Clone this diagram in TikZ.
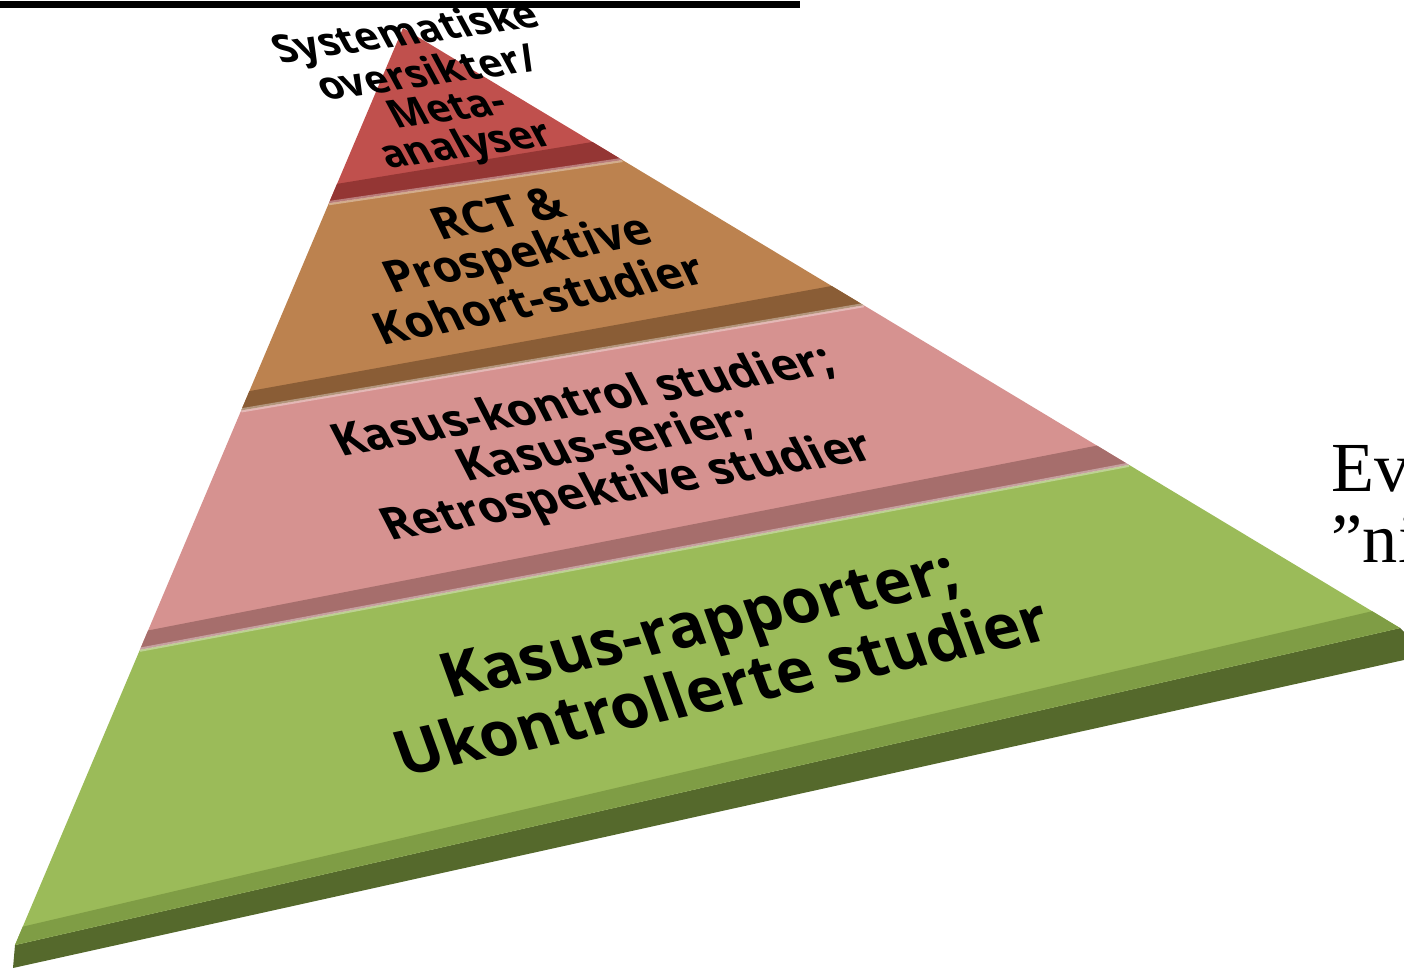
\documentclass[tikz,border=0pt]{standalone}
\usepackage{fontspec}
\setmainfont{Liberation Serif}
\newfontfamily\pyrfont{Open Sans}
\usetikzlibrary{calc}

\definecolor{redband}{HTML}{C0504D}
\definecolor{reddark}{HTML}{943634}
\definecolor{tanband}{HTML}{BC824F}
\definecolor{tandark}{HTML}{8A5D36}
\definecolor{pinkband}{HTML}{D69290}
\definecolor{pinkdark}{HTML}{A66E6C}
\definecolor{greenband}{HTML}{9BBB59}
\definecolor{greendark}{HTML}{7F9D45}
\definecolor{greenside}{HTML}{55692C}

\tikzset{
  tier/.style 2 args={font=\pyrfont\bfseries\fontsize{#1}{#2}\selectfont,
    align=center, inner sep=0pt, text=black},
  rim/.style={white, opacity=0.35, line width=1.2pt},
}

\begin{document}
\begin{tikzpicture}[x=0.01cm, y=-0.01cm]
  % same size as the slide crop
  \path[use as bounding box] (0,0) rectangle (1404,968);

  % heading rule, cut at the top
  \fill[black] (0,1) rectangle (800,8);

  % corners of the top face
  \coordinate (apex) at (403,28);
  \coordinate (left) at (15,945);
  \coordinate (right) at (1400,628);
  % tier borders on both edges
  \coordinate (l1) at ($(apex)!0.191!(left)$);
  \coordinate (r1) at ($(apex)!0.220!(right)$);
  \coordinate (l2) at ($(apex)!0.417!(left)$);
  \coordinate (r2) at ($(apex)!0.462!(right)$);
  \coordinate (l3) at ($(apex)!0.678!(left)$);
  \coordinate (r3) at ($(apex)!0.728!(right)$);

  % thickness of the slab
  \fill[greenside] (left) -- (right) -- (1404,632) -- (1404,660) -- (13,968) -- cycle;

  % tiers
  \fill[redband] (apex) -- (r1) -- (l1) -- cycle;
  \fill[tanband] (l1) -- (r1) -- (r2) -- (l2) -- cycle;
  \fill[pinkband] (l2) -- (r2) -- (r3) -- (l3) -- cycle;
  \fill[greenband] (l3) -- (r3) -- (right) -- (left) -- cycle;

  % darker lower rims
  \fill[reddark] ($(apex)!0.170!(left)$) -- ($(apex)!0.190!(right)$) -- (r1) -- (l1) -- cycle;
  \fill[tandark] ($(apex)!0.396!(left)$) -- ($(apex)!0.430!(right)$) -- (r2) -- (l2) -- cycle;
  \fill[pinkdark] ($(apex)!0.657!(left)$) -- ($(apex)!0.696!(right)$) -- (r3) -- (l3) -- cycle;
  \fill[greendark] ($(apex)!0.980!(left)$) -- ($(apex)!0.972!(right)$) -- (right) -- (left) -- cycle;
  \draw[rim] (l1) -- (r1);
  \draw[rim] (l2) -- (r2);
  \draw[rim] (l3) -- (r3);

  % labels
  \node[tier={11.3}{10.8}, rotate=8, xslant=-0.37] (meta) at (437,91)
    {Systematiske\\oversikter/\\Meta-\\analyser};
  \node[tier={12.9}{12.2}, rotate=11, xslant=-0.26] (rct) at (518,256)
    {RCT \&\\Prospektive\\Kohort-studier};
  \node[tier={13}{13}, rotate=9.5, xslant=-0.32] (kasus) at (606,446)
    {Kasus-kontrol studier;\\Kasus-serier;\\Retrospektive studier};
  \node[tier={17.8}{19}, rotate=12, xslant=-0.14] (rapport) at (710,655)
    {Kasus-rapporter;\\Ukontrollerte studier};

  % side text, cut by the right border
  \node[anchor=base west, inner sep=0pt, font=\fontsize{20}{24}\selectfont] (ev) at (1331,492) {Ev};
  \node[anchor=base west, inner sep=0pt, font=\fontsize{20}{24}\selectfont] (ni) at (1331,563) {”ni};
\end{tikzpicture}
\end{document}
